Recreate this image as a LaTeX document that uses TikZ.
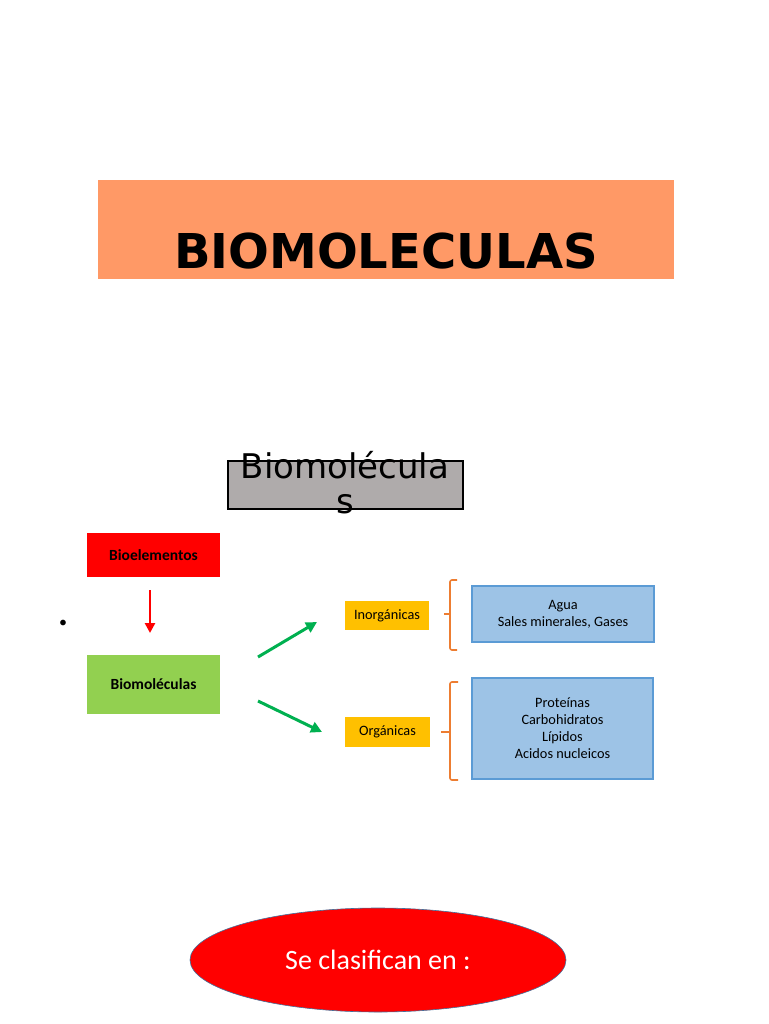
\documentclass[tikz,border=0pt]{standalone}
\usepackage{fontspec}
\setmainfont{Carlito}
\newfontfamily\dejavu{DejaVu Sans}
\usetikzlibrary{shapes.geometric,arrows.meta}
\definecolor{titleor}{HTML}{FF9966}
\definecolor{graybg}{HTML}{AFABAB}
\definecolor{redbx}{HTML}{FF0000}
\definecolor{greenbx}{HTML}{92D050}
\definecolor{yellowbx}{HTML}{FFC000}
\definecolor{bluebx}{HTML}{9DC3E6}
\definecolor{blueln}{HTML}{5B9BD5}
\definecolor{orangeln}{HTML}{ED7D31}
\definecolor{greenar}{HTML}{00B050}
\definecolor{ellln}{HTML}{41719C}
\tikzset{
  bluebox/.style={fill=bluebx, draw=blueln, line width=1.5pt, inner sep=0pt, align=center, font=\fontsize{14.3}{17}\selectfont},
  tagbox/.style={fill=yellowbx, inner sep=0pt, font=\fontsize{14.3}{16}\selectfont},
  garrow/.style={draw=greenar, line width=3pt, -{Triangle[length=11pt,width=11pt]}},
  bracket/.style={draw=orangeln, line width=1.6pt, rounded corners=2pt}
}
\begin{document}
\begin{tikzpicture}[x=1pt,y=-1pt]
\useasboundingbox (0,0) rectangle (768,1024);
% title
\node[fill=titleor, minimum width=576pt, minimum height=99pt, inner sep=0pt] (title) at (386,229.5) {};
\node[font=\dejavu\bfseries\fontsize{48}{50}\selectfont, anchor=base] (titletxt) at (386,268) {BIOMOLECULAS};
% gray box
\node[fill=graybg, draw=black, line width=1.2pt, minimum width=235pt, minimum height=48pt, inner sep=0pt] (gb) at (345.5,485) {};
\node[font=\dejavu\fontsize{34}{35}\selectfont, align=center, anchor=base, inner sep=0pt] (gbt) at (345,513) {Biomolécula\\s};
% left column
\node[fill=redbx, minimum width=133pt, minimum height=44pt, inner sep=0pt, font=\bfseries\fontsize{15.5}{17}\selectfont] (bio) at (153.5,555) {Bioelementos};
\node[fill=greenbx, minimum width=133pt, minimum height=59pt, inner sep=0pt, font=\bfseries\fontsize{15.5}{17}\selectfont] (biom) at (153.5,684.5) {Biomoléculas};
\coordinate (ra) at (150,590);
\coordinate (rb) at (150,633);
\draw[draw=redbx, line width=2.5pt, -{Triangle[length=10pt,width=10pt]}] (ra) -- (rb);
\node[font=\fontsize{16}{16}\selectfont, inner sep=0pt] (bullet) at (63,624) {\textbullet};
% middle tags
\node[tagbox, minimum width=84pt, minimum height=29pt] (inorg) at (387,615.5) {Inorgánicas};
\node[tagbox, minimum width=85pt, minimum height=30pt] (org) at (387.5,732) {Orgánicas};
\coordinate (g1a) at (258,657);
\coordinate (g1b) at (317,622);
\coordinate (g2a) at (258,701);
\coordinate (g2b) at (322,732);
\draw[garrow] (g1a) -- (g1b);
\draw[garrow] (g2a) -- (g2b);
% brackets
\coordinate (b1t) at (457,580);
\coordinate (b1b) at (457,650);
\coordinate (b1m) at (444,614);
\draw[bracket] (b1t) -- (450,580) -- (450,650) -- (b1b);
\draw[bracket] (450,614) -- (b1m);
\coordinate (b2t) at (458,682);
\coordinate (b2b) at (458,780);
\coordinate (b2m) at (441,732);
\draw[bracket] (b2t) -- (450,682) -- (450,780) -- (b2b);
\draw[bracket] (450,732) -- (b2m);
% blue boxes
\node[bluebox, minimum width=182pt, minimum height=56pt] (agua) at (563,614) {Agua\\Sales minerales, Gases};
\node[bluebox, minimum width=181pt, minimum height=101pt] (orgl) at (562.5,728.5) {Proteínas\\Carbohidratos\\Lípidos\\Acidos nucleicos};
% ellipse
\node[ellipse, fill=redbx, draw=ellln, line width=0.6pt, minimum width=376pt, minimum height=104pt, inner sep=0pt, text=white, font=\fontsize{28}{30}\selectfont] (ell) at (378,960) {Se clasifican en :};
\end{tikzpicture}
\end{document}
